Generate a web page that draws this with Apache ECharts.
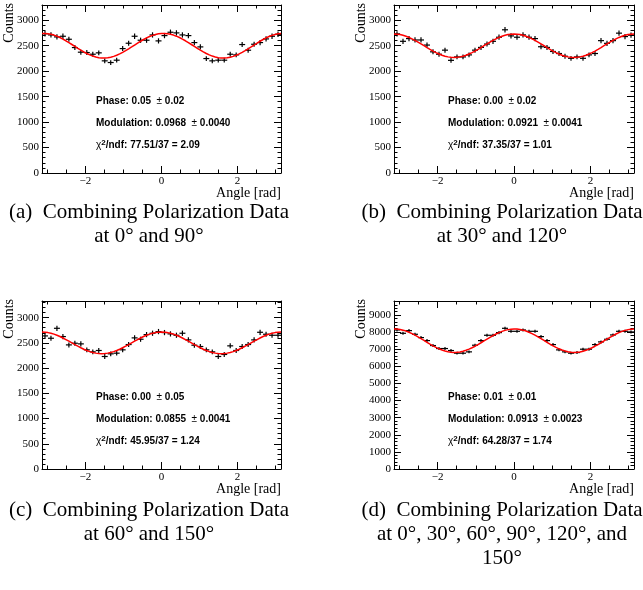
<!DOCTYPE html>
<html>
<head>
<meta charset="utf-8">
<script src="https://cdn.jsdelivr.net/npm/echarts@6/dist/echarts.min.js"></script>
<style>
  html, body { margin: 0; padding: 0; background: #fff; }
  #chart { width: 643px; height: 590px; }
</style>
</head>
<body>
<div id="chart"></div>
<script>
// Angular distributions: 40 bins over [-pi, pi]
const nBins = 40;
const angleLabelTicks = [-2, 0, 2];
const angleMinorTicks = [-3, -2.5, -1.5, -1, -0.5, 0.5, 1, 1.5, 2.5, 3];
const countsMajorSmall = [0, 500, 1000, 1500, 2000, 2500, 3000];
const countsMajorLarge = [0, 1000, 2000, 3000, 4000, 5000, 6000, 7000, 8000, 9000];

// Counts per bin
const countsA = [2735, 2712, 2673, 2686, 2627, 2464, 2373, 2366, 2333, 2360,
                 2203, 2170, 2216, 2444, 2549, 2686, 2608, 2608, 2712, 2595,
                 2699, 2765, 2752, 2712, 2699, 2562, 2477, 2248, 2203, 2216,
                 2216, 2333, 2320, 2523, 2412, 2529, 2562, 2634, 2686, 2725];
const countsB = [2733, 2587, 2640, 2613, 2613, 2513, 2380, 2333, 2413, 2213,
                 2280, 2280, 2320, 2413, 2467, 2533, 2587, 2667, 2813, 2693,
                 2667, 2713, 2667, 2640, 2480, 2467, 2387, 2347, 2293, 2253,
                 2280, 2253, 2320, 2347, 2600, 2547, 2600, 2747, 2680, 2707];
const countsC = [2638, 2592, 2789, 2625, 2460, 2493, 2480, 2362, 2322, 2349,
                 2230, 2283, 2296, 2362, 2467, 2599, 2572, 2664, 2691, 2724,
                 2704, 2678, 2651, 2691, 2559, 2454, 2428, 2362, 2322, 2230,
                 2270, 2441, 2349, 2428, 2467, 2559, 2710, 2671, 2651, 2651];
const countsD = [8127, 7933, 8088, 7875, 7681, 7506, 7215, 7041, 7041, 6924,
                 6769, 6769, 6847, 7235, 7506, 7817, 7817, 7972, 8224, 8049,
                 8049, 8127, 8049, 8049, 7739, 7506, 7273, 6963, 6847, 6769,
                 6808, 7002, 7002, 7273, 7429, 7584, 7836, 8049, 8049, 8011];

// Fit results: [phase, modulation, mean counts]
const fitA = [0.05, 0.0968, 2500];
const fitB = [0.00, 0.0921, 2500];
const fitC = [0.00, 0.0855, 2500];
const fitD = [0.01, 0.0913, 7500];

const phaseTexts = ['0.05', '0.00', '0.00', '0.01'];
const phaseErrTexts = ['0.02', '0.02', '0.05', '0.01'];
const modTexts = ['0.0968', '0.0921', '0.0855', '0.0913'];
const modErrTexts = ['0.0040', '0.0041', '0.0041', '0.0023'];
const chi2Texts = ['77.51/37 = 2.09', '37.35/37 = 1.01', '45.95/37 = 1.24', '64.28/37 = 1.74'];

const captionLines = [
  ['(a)  Combining Polarization Data', 'at 0° and 90°'],
  ['(b)  Combining Polarization Data', 'at 30° and 120°'],
  ['(c)  Combining Polarization Data', 'at 60° and 150°'],
  ['(d)  Combining Polarization Data', 'at 0°, 30°, 60°, 90°, 120°, and', '150°']
];

const PI = Math.PI;
const binWidth = 2 * PI / nBins;

const panels = [
  { counts: countsA, fit: fitA, yMax: 3300, majors: countsMajorSmall, minorStep: 100, left: 42,  top: 5,   width: 239 },
  { counts: countsB, fit: fitB, yMax: 3300, majors: countsMajorSmall, minorStep: 100, left: 394, top: 5,   width: 240 },
  { counts: countsC, fit: fitC, yMax: 3330, majors: countsMajorSmall, minorStep: 100, left: 42,  top: 301, width: 239 },
  { counts: countsD, fit: fitD, yMax: 9820, majors: countsMajorLarge, minorStep: 200, left: 394, top: 301, width: 240 }
];
const plotHeight = 168;

const serif = 'Liberation Serif, Times New Roman, serif';
const sans = 'Liberation Sans, Arial, Helvetica, sans-serif';

function renderErrorCross(params, api) {
  const x = api.value(0), y = api.value(1), ex = api.value(2), ey = api.value(3);
  const l = api.coord([x - ex, y]), r = api.coord([x + ex, y]);
  const b = api.coord([x, y - ey]), t = api.coord([x, y + ey]);
  const st = { stroke: '#000', lineWidth: 1.2 };
  return {
    type: 'group',
    children: [
      { type: 'line', shape: { x1: l[0], y1: l[1], x2: r[0], y2: r[1] }, style: st },
      { type: 'line', shape: { x1: b[0], y1: b[1], x2: t[0], y2: t[1] }, style: st }
    ]
  };
}

function fitValue(fit, x) {
  return fit[2] * (1 + fit[1] * Math.cos(2 * (x - fit[0])));
}

const grids = [], xAxes = [], yAxes = [], series = [], graphics = [];

function minorValues(max, step, majors) {
  const out = [];
  for (let v = step; v <= max; v += step) {
    if (majors.indexOf(v) < 0) out.push(v);
  }
  return out;
}

panels.forEach((p, k) => {
  const gMain = grids.length;
  const rect = { left: p.left, top: p.top, width: p.width, height: plotHeight };
  grids.push(Object.assign({}, rect));
  grids.push(Object.assign({}, rect));
  const gMinor = gMain + 1;
  const yMinors = minorValues(p.yMax, p.minorStep, p.majors);

  const line = { show: true, onZero: false, lineStyle: { color: '#000', width: 1 } };
  const noLine = { show: false, onZero: false };
  const tickStyle = { color: '#000', width: 1 };

  const xBase = { type: 'value', min: -PI, max: PI, splitLine: { show: false } };
  const yBase = { type: 'value', min: 0, max: p.yMax, splitLine: { show: false } };

  const xMainIdx = xAxes.length;
  xAxes.push(Object.assign({}, xBase, {
    gridIndex: gMain, position: 'bottom', axisLine: line,
    axisTick: { show: true, inside: true, length: 7, lineStyle: tickStyle, customValues: angleLabelTicks },
    axisLabel: {
      show: true, customValues: angleLabelTicks, margin: 3,
      fontFamily: serif, fontSize: 11, color: '#000',
      formatter: v => (v < 0 ? '\u2212' + Math.abs(v) : String(v))
    }
  }));
  xAxes.push(Object.assign({}, xBase, {
    gridIndex: gMain, position: 'top', axisLine: line,
    axisTick: { show: true, inside: true, length: 7, lineStyle: tickStyle, customValues: angleLabelTicks },
    axisLabel: { show: false }
  }));
  xAxes.push(Object.assign({}, xBase, {
    gridIndex: gMinor, position: 'bottom', axisLine: noLine,
    axisTick: { show: true, inside: true, length: 3.5, lineStyle: tickStyle, customValues: angleMinorTicks },
    axisLabel: { show: false }
  }));
  xAxes.push(Object.assign({}, xBase, {
    gridIndex: gMinor, position: 'top', axisLine: noLine,
    axisTick: { show: true, inside: true, length: 3.5, lineStyle: tickStyle, customValues: angleMinorTicks },
    axisLabel: { show: false }
  }));

  const yMainIdx = yAxes.length;
  yAxes.push(Object.assign({}, yBase, {
    gridIndex: gMain, position: 'left', axisLine: line,
    axisTick: { show: true, inside: true, length: 7, lineStyle: tickStyle, customValues: p.majors },
    axisLabel: {
      show: true, customValues: p.majors, margin: 3,
      fontFamily: serif, fontSize: 11, color: '#000',
      formatter: v => String(v)
    }
  }));
  yAxes.push(Object.assign({}, yBase, {
    gridIndex: gMain, position: 'right', axisLine: line,
    axisTick: { show: true, inside: true, length: 7, lineStyle: tickStyle, customValues: p.majors },
    axisLabel: { show: false }
  }));
  yAxes.push(Object.assign({}, yBase, {
    gridIndex: gMinor, position: 'left', axisLine: noLine,
    axisTick: { show: true, inside: true, length: 3.5, lineStyle: tickStyle, customValues: yMinors },
    axisLabel: { show: false }
  }));
  yAxes.push(Object.assign({}, yBase, {
    gridIndex: gMinor, position: 'right', axisLine: noLine,
    axisTick: { show: true, inside: true, length: 3.5, lineStyle: tickStyle, customValues: yMinors },
    axisLabel: { show: false }
  }));

  // histogram bins drawn as error crosses
  const histData = p.counts.map((c, i) => [-PI + (i + 0.5) * binWidth, c, binWidth / 2, Math.sqrt(c)]);
  series.push({
    type: 'custom', xAxisIndex: xMainIdx, yAxisIndex: yMainIdx,
    renderItem: renderErrorCross, data: histData, z: 2, silent: true
  });

  // fitted modulation curve
  const curve = [];
  const nPts = 240;
  for (let j = 0; j <= nPts; j++) {
    const x = -PI + j * 2 * PI / nPts;
    curve.push([x, fitValue(p.fit, x)]);
  }
  series.push({
    type: 'line', xAxisIndex: xMainIdx, yAxisIndex: yMainIdx,
    data: curve, showSymbol: false, smooth: false, z: 3, silent: true,
    lineStyle: { color: '#ff0000', width: 1.5 }
  });

  // axis titles
  graphics.push({
    type: 'text', x: p.left - 33, y: p.top - 2, rotation: Math.PI / 2,
    style: { text: 'Counts', font: '14px ' + serif, fill: '#000', align: 'right', verticalAlign: 'middle' }
  });
  graphics.push({
    type: 'text', x: p.left + p.width, y: p.top + plotHeight + 20,
    style: { text: 'Angle [rad]', font: '14px ' + serif, fill: '#000', align: 'right', verticalAlign: 'middle' }
  });

  // fit statistics
  const tx = p.left + 54;
  const rich = {
    b: { fontFamily: sans, fontWeight: 'bold', fontSize: 10, fill: '#000' },
    r: { fontFamily: sans, fontSize: 10, fill: '#000' },
    s: { fontFamily: sans, fontWeight: 'bold', fontSize: 8, fill: '#000', padding: [0, 0, 5, 0] }
  };
  graphics.push({
    type: 'text', x: tx, y: p.top + 96,
    style: { text: '{b|Phase: ' + phaseTexts[k] + '  }{r|±}{b| ' + phaseErrTexts[k] + '}', rich: rich, verticalAlign: 'middle' }
  });
  graphics.push({
    type: 'text', x: tx, y: p.top + 118,
    style: { text: '{b|Modulation: ' + modTexts[k] + '  }{r|±}{b| ' + modErrTexts[k] + '}', rich: rich, verticalAlign: 'middle' }
  });
  graphics.push({
    type: 'text', x: tx, y: p.top + 140,
    style: { text: '{r|χ}{s|2}{b|/ndf: ' + chi2Texts[k] + '}', rich: rich, verticalAlign: 'middle' }
  });

  // sub-figure caption
  const cx = k % 2 === 0 ? 149 : 502;
  const cy = k < 2 ? 212 : 510;
  captionLines[k].forEach((ln, j) => {
    graphics.push({
      type: 'text', x: cx, y: cy + j * 24,
      style: { text: ln, font: '21px ' + serif, fill: '#000', align: 'center', verticalAlign: 'middle' }
    });
  });
});

const chart = echarts.init(document.getElementById('chart'), null, { renderer: 'canvas' });
chart.setOption({
  animation: false,
  backgroundColor: '#fff',
  grid: grids,
  xAxis: xAxes,
  yAxis: yAxes,
  series: series,
  graphic: graphics
});
</script>
</body>
</html>
